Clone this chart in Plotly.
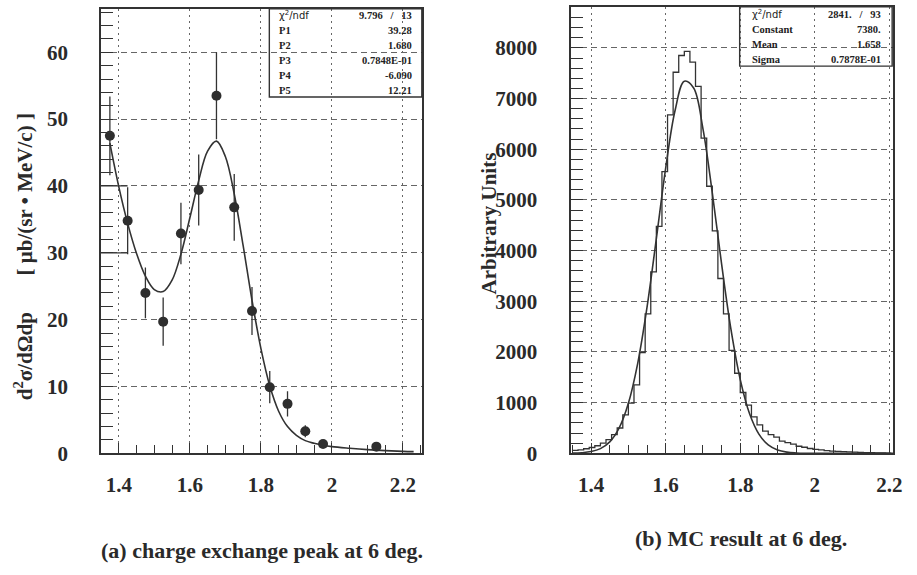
import plotly.graph_objects as go

W, H = 917, 575

# ---------------- data: panel (a) ----------------
p_a = [1.375, 1.425, 1.475, 1.525, 1.575, 1.625, 1.675, 1.725, 1.775, 1.825, 1.875, 1.925, 1.975, 2.125]
xsec_a = [47.5, 34.8, 24.0, 19.7, 32.9, 39.4, 53.5, 36.8, 21.3, 9.9, 7.4, 3.3, 1.4, 1.0]
err_a = [5.9, 5.0, 3.8, 3.6, 4.6, 5.3, 6.5, 5.0, 3.6, 2.4, 1.9, 0.9, 0.4, 0.3]

fit_a_p = [1.375, 1.40, 1.425, 1.45, 1.475, 1.50, 1.525, 1.55, 1.575, 1.60, 1.625, 1.65,
           1.675, 1.70, 1.725, 1.75, 1.775, 1.80, 1.825, 1.85, 1.875, 1.90, 1.925, 1.95,
           1.975, 2.00, 2.05, 2.10, 2.15, 2.20, 2.23]
fit_a_y = [46.4, 39.9, 34.4, 29.9, 26.5, 24.5, 24.2, 25.9, 29.8, 35.2, 40.8, 45.2,
           46.7, 44.4, 38.8, 31.1, 22.9, 15.7, 10.1, 6.3, 4.0, 2.7, 1.9, 1.5,
           1.2, 1.0, 0.76, 0.56, 0.41, 0.30, 0.25]

# stray horizontal segments near the y axis of panel (a)
frag_p = [1.35, 1.425, None, 1.35, 1.425]
frag_y = [40, 40, None, 30, 30]

stats_a_labels = ["χ<sup>2</sup>/ndf", "P1", "P2", "P3", "P4", "P5"]
stats_a_values = ["9.796\u00a0\u00a0\u00a0/\u00a0\u00a0\u00a013", "39.28", "1.680", "0.7848E-01", "-6.090", "12.21"]

# ---------------- data: panel (b) ----------------
mc_bin_start = 1.35
mc_bin_width = 0.015
mc_counts = [60, 70, 90, 115, 150, 200, 270, 370, 500, 760,
             990, 1350, 1990, 2750, 3580, 4480, 5560, 6680, 7520, 7850,
             7930, 7720, 7240, 6220, 5270, 4390, 3450, 2750, 2030, 1580,
             1200, 950, 720, 560, 440, 370, 320, 240, 210, 180,
             140, 120, 95, 80, 70, 55, 45, 40, 32, 28,
             22, 18, 15, 12, 10, 8, 6]

fit_b_p = [1.35, 1.375, 1.40, 1.425, 1.45, 1.475, 1.50, 1.525, 1.55, 1.575, 1.60, 1.625,
           1.65, 1.675, 1.70, 1.725, 1.75, 1.775, 1.80, 1.825, 1.85, 1.875, 1.90, 1.925,
           1.95, 1.975, 2.00, 2.05, 2.10, 2.21]
fit_b_y = [3.5, 11.6, 34.6, 93, 226, 497, 987, 1775, 2883, 4237, 5628, 6760,
           7342, 7210, 6402, 5140, 3732, 2449, 1454, 780, 379, 166, 66, 24,
           8, 2, 1, 0, 0, 0]

stats_b_labels = ["χ<sup>2</sup>/ndf", "Constant", "Mean", "Sigma"]
stats_b_values = ["2841.\u00a0\u00a0\u00a0/\u00a0\u00a0\u00a093", "7380.", "1.658", "0.7878E-01"]

x_tickvals = [1.4, 1.6, 1.8, 2.0, 2.2]
x_ticktext = ["1.4", "1.6", "1.8", "2", "2.2"]

caption_a = "(a) charge exchange peak at 6 deg."
caption_b = "(b) MC result at 6 deg."
ytitle_a = "d<sup>2</sup>σ/dΩdp\u00a0\u00a0\u00a0\u00a0\u00a0\u00a0 [ μb/(sr • MeV/c) ]"
ytitle_b = "Arbitrary Units"

# ---------------- styling ----------------
INK = "#333333"
GRID = "#666666"
SERIF = "Liberation Serif"
SANS = "DejaVu Sans"


def px(x):
    return x / W


def py(y):
    return 1 - y / H


# histogram outline (bin edges from start/width)
mc_edges = [mc_bin_start + i * mc_bin_width for i in range(len(mc_counts) + 1)]
mc_step_y = mc_counts + [mc_counts[-1]]

fig = go.Figure()

# panel (a)
fig.add_trace(go.Scatter(x=frag_p, y=frag_y, mode="lines",
                         line=dict(color=INK, width=1.3), xaxis="x", yaxis="y",
                         showlegend=False, hoverinfo="skip"))
fig.add_trace(go.Scatter(x=fit_a_p, y=fit_a_y, mode="lines",
                         line=dict(color=INK, width=1.6, shape="spline"),
                         xaxis="x", yaxis="y", showlegend=False))
fig.add_trace(go.Scatter(x=p_a, y=xsec_a, mode="markers",
                         marker=dict(size=10, color="#2e2e2e"),
                         error_y=dict(type="data", array=err_a, color=INK, thickness=1.3, width=0),
                         xaxis="x", yaxis="y", showlegend=False))

# panel (b)
fig.add_trace(go.Scatter(x=mc_edges, y=mc_step_y, mode="lines",
                         line=dict(color=INK, width=1.3, shape="hv"),
                         xaxis="x2", yaxis="y2", showlegend=False))
fig.add_trace(go.Scatter(x=fit_b_p, y=fit_b_y, mode="lines",
                         line=dict(color=INK, width=1.6, shape="spline"),
                         xaxis="x2", yaxis="y2", showlegend=False))

tickfont = dict(family=SERIF, size=21, color="#2a2a2a", weight="bold")


def xaxis_style(domain, rng, anchor):
    return dict(domain=domain, range=rng, anchor=anchor,
                tickmode="array", tickvals=x_tickvals, ticktext=x_ticktext,
                ticks="inside", ticklen=10, tickwidth=1.3, tickcolor=INK,
                minor=dict(dtick=0.05, tick0=1.4, ticks="inside", ticklen=8, tickwidth=1.2, tickcolor=INK,
                           showgrid=False),
                showline=True, linecolor=INK, linewidth=1.8, mirror=True,
                showgrid=True, gridcolor=GRID, gridwidth=1, griddash="2px,4px",
                zeroline=False, tickfont=tickfont, ticklabelstandoff=12)


def yaxis_style(domain, rng, anchor, dt, mdt, standoff):
    return dict(domain=domain, range=rng, anchor=anchor,
                dtick=dt, tick0=0, ticks="inside", ticklen=12, tickwidth=1.3, tickcolor=INK,
                minor=dict(dtick=mdt, tick0=0, ticks="inside", ticklen=12, tickwidth=1.2, tickcolor=INK,
                           showgrid=False),
                showline=True, linecolor=INK, linewidth=1.8, mirror=True,
                showgrid=True, gridcolor=GRID, gridwidth=1, griddash="6px,4px",
                zeroline=False, tickfont=tickfont, ticklabelstandoff=standoff)


layout = dict(
    width=W, height=H, margin=dict(l=0, r=0, t=0, b=0),
    paper_bgcolor="white", plot_bgcolor="white", showlegend=False,
    xaxis=xaxis_style([px(102), px(426)], [1.35, 2.253], "y"),
    yaxis=yaxis_style([py(463), py(9)], [0, 66.5], "x", 10, 2, 27),
    xaxis2=xaxis_style([px(577), px(902)], [1.347, 2.21], "y2"),
    yaxis2=yaxis_style([py(463), py(7)], [0, 8810], "x2", 1000, 200, 28),
)
fig.update_layout(**layout)

annotations = []
shapes = []

# stats box (a)
shapes.append(dict(type="rect", xref="paper", yref="paper",
                   x0=px(272), x1=px(426), y0=py(99), y1=py(9),
                   line=dict(color=INK, width=1.4), fillcolor="rgba(0,0,0,0)"))
for i, (lab, val) in enumerate(zip(stats_a_labels, stats_a_values)):
    yy = py(15.5 + 15.3 * i)
    if i == 0:
        lab_font = dict(family=SANS, size=10, color="#222")
    else:
        lab_font = dict(family=SERIF, size=10.5, color="#222", weight="bold")
    annotations.append(dict(text=lab, x=px(280), y=yy, xref="paper", yref="paper",
                            xanchor="left", yanchor="middle", showarrow=False, font=lab_font))
    annotations.append(dict(text=val, x=px(418), y=yy, xref="paper", yref="paper",
                            xanchor="right", yanchor="middle", showarrow=False,
                            font=dict(family=SERIF, size=10.5, color="#222", weight="bold")))

# stats box (b)
shapes.append(dict(type="rect", xref="paper", yref="paper",
                   x0=px(747), x1=px(901), y0=py(67.5), y1=py(7),
                   line=dict(color=INK, width=1.4), fillcolor="rgba(0,0,0,0)"))
for i, (lab, val) in enumerate(zip(stats_b_labels, stats_b_values)):
    yy = py(14.5 + 15.4 * i)
    if i == 0:
        lab_font = dict(family=SANS, size=10, color="#222")
    else:
        lab_font = dict(family=SERIF, size=10.5, color="#222", weight="bold")
    annotations.append(dict(text=lab, x=px(757), y=yy,
                            xref="paper", yref="paper",
                            xanchor="left", yanchor="middle", showarrow=False, font=lab_font))
    annotations.append(dict(text=val, x=px(892), y=yy, xref="paper", yref="paper",
                            xanchor="right", yanchor="middle", showarrow=False,
                            font=dict(family=SERIF, size=10.5, color="#222", weight="bold")))

# y-axis titles
annotations.append(dict(text=ytitle_a, x=px(24), y=py(262), xref="paper", yref="paper",
                        xanchor="center", yanchor="middle", textangle=-90, showarrow=False,
                        font=dict(family=SERIF, size=21, color="#2a2a2a", weight="bold")))
annotations.append(dict(text=ytitle_b, x=px(494), y=py(228), xref="paper", yref="paper",
                        xanchor="center", yanchor="middle", textangle=-90, showarrow=False,
                        font=dict(family=SERIF, size=21, color="#2a2a2a", weight="bold")))

# captions
annotations.append(dict(text=caption_a, x=px(265), y=py(562), xref="paper", yref="paper",
                        xanchor="center", yanchor="middle", showarrow=False,
                        font=dict(family=SERIF, size=22, color="#2a2a2a", weight="bold")))
annotations.append(dict(text=caption_b, x=px(748), y=py(550), xref="paper", yref="paper",
                        xanchor="center", yanchor="middle", showarrow=False,
                        font=dict(family=SERIF, size=22, color="#2a2a2a", weight="bold")))

fig.update_layout(annotations=annotations, shapes=shapes)
fig.write_html("out.html")
